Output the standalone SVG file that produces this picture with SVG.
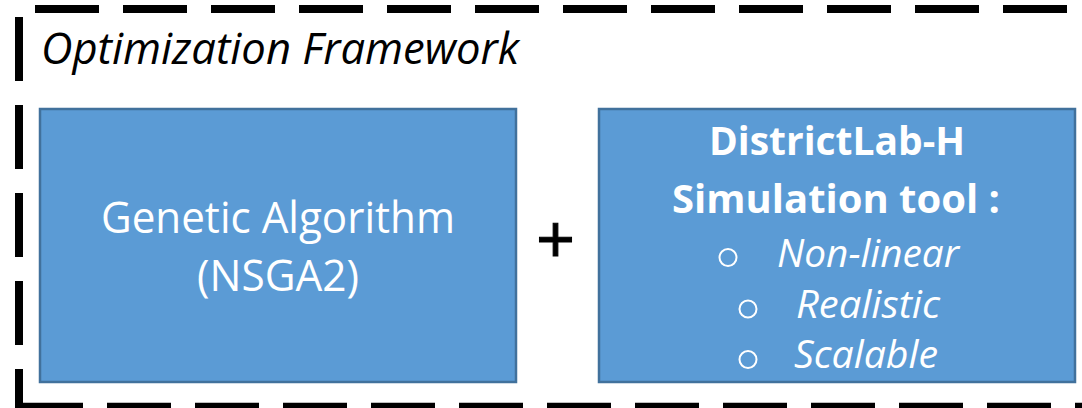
<svg xmlns="http://www.w3.org/2000/svg" width="1082" height="408" viewBox="0 0 1082 408">
  <style>
    .frame { stroke: #000; stroke-width: 8; stroke-dasharray: 64 24; fill: none; }
    .box { fill: #5B9BD5; stroke: #41719C; stroke-width: 2.5; }
    .t { font-family: "Open Sans", "Noto Sans", "Liberation Sans", sans-serif; fill: #fff; }
    .title { font-family: "Open Sans", "Noto Sans", "Liberation Sans", sans-serif; font-style: italic; font-size: 44px; fill: #000; }
    .bul { fill: none; stroke: #fff; stroke-width: 2; }
  </style>
  <rect width="1082" height="408" fill="#fff"/>
  <g id="frame">
    <line class="frame" x1="35" y1="9" x2="1082" y2="9"/>
    <line class="frame" x1="19" y1="17" x2="19" y2="410"/>
    <line class="frame" x1="19" y1="406.7" x2="1140" y2="406.7"/>
    <text class="title" x="41" y="64" textLength="478" lengthAdjust="spacingAndGlyphs">Optimization Framework</text>
  </g>
  <g id="node-ga">
    <rect class="box" x="40" y="109" width="476" height="273"/>
    <text class="t" x="278" y="233" font-size="43" text-anchor="middle" textLength="354" lengthAdjust="spacingAndGlyphs">Genetic Algorithm</text>
    <text class="t" x="278" y="291" font-size="43" text-anchor="middle" textLength="162" lengthAdjust="spacingAndGlyphs">(NSGA2)</text>
  </g>
  <g id="node-plus">
    <text x="555.5" y="262" font-family="'Liberation Sans', Arial, sans-serif" font-size="66" text-anchor="middle" fill="#000" stroke="#000" stroke-width="1">+</text>
  </g>
  <g id="node-sim">
    <rect class="box" x="599" y="109" width="476" height="273"/>
    <text class="t" x="837" y="155" font-size="39" font-weight="bold" text-anchor="middle" textLength="256" lengthAdjust="spacingAndGlyphs">DistrictLab-H</text>
    <text class="t" x="836" y="213" font-size="39" font-weight="bold" text-anchor="middle" textLength="328" lengthAdjust="spacingAndGlyphs">Simulation tool :</text>
    <circle class="bul" cx="728" cy="257.5" r="8.5"/>
    <text class="t" x="777" y="267" font-size="38" font-style="italic" textLength="182" lengthAdjust="spacingAndGlyphs">Non-linear</text>
    <circle class="bul" cx="748" cy="309" r="8.5"/>
    <text class="t" x="796" y="318" font-size="38" font-style="italic" textLength="144" lengthAdjust="spacingAndGlyphs">Realistic</text>
    <circle class="bul" cx="748" cy="359.5" r="8.5"/>
    <text class="t" x="794" y="368" font-size="38" font-style="italic" textLength="144" lengthAdjust="spacingAndGlyphs">Scalable</text>
  </g>
</svg>
